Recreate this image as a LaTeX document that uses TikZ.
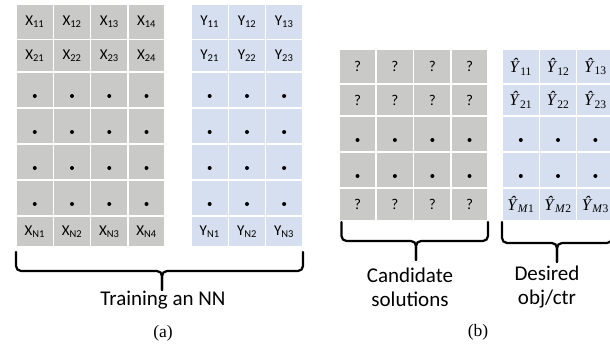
\documentclass[tikz,border=0pt]{standalone}
\usepackage{fontspec}
\setmainfont{Carlito}
\newfontfamily\capfont{Liberation Serif}
\definecolor{cellgray}{RGB}{201,201,200}
\definecolor{cellblue}{RGB}{214,223,239}

\tikzset{
  cell/.style={draw=white, line width=1.3pt, inner sep=0pt,
               font=\fontsize{15}{18}\selectfont},
  graycell/.style={cell, fill=cellgray},
  bluecell/.style={cell, fill=cellblue},
  brace/.style={line width=2.2pt, rounded corners=5pt, line cap=round},
  lbl/.style={font=\fontsize{21}{24}\selectfont, align=center, inner sep=0pt},
  sublbl/.style={font=\capfont\fontsize{17.5}{18}\selectfont, inner sep=0pt},
}

% one cell: name, left, top, right, bottom, style, text
\newcommand\gridcell[7]{%
  \pgfmathsetmacro\cw{#4-#2}\pgfmathsetmacro\ch{#5-#3}%
  \node[#6, minimum width=\cw, minimum height=\ch] (#1)
    at ({(#2+#4)/2},{(#3+#5)/2}) {#7};}
% small black dot inside a cell
\newcommand\celldot[1]{\fill ([yshift=-6pt]#1.center) circle (2pt);}
% estimated output symbol with subscript
\newcommand\yhatsym[1]{{\capfont\fontsize{16.5}{18}\selectfont
  \textit{Ŷ}\textsubscript{#1}}}

\begin{document}
\begin{tikzpicture}[x=1pt, y=-1pt]
\useasboundingbox (0,0) rectangle (610,345);

% ---------- (a) training data ----------
\foreach \c/\xl/\xr in {1/16/53.5, 2/53.5/90.5, 3/90.5/128, 4/128/165} {
  \foreach \r/\yt/\yb in {1/4.7/39.3, 2/39.3/72, 3/72/108, 4/108/144,
                          5/144/180, 6/180/216, 7/216/247} {
    \gridcell{xa-\r-\c}{\xl}{\yt}{\xr}{\yb}{graycell}{%
      \ifcase\r\or X\textsubscript{1\c}\or X\textsubscript{2\c}%
      \or\or\or\or\or X\textsubscript{N\c}\fi}
    \ifnum\r>2 \ifnum\r<7 \celldot{xa-\r-\c}\fi\fi
  }
}
\foreach \c/\xl/\xr in {1/191/228.3, 2/228.3/265.7, 3/265.7/302.5} {
  \foreach \r/\yt/\yb in {1/4.7/39.3, 2/39.3/72, 3/72/108, 4/108/144,
                          5/144/180, 6/180/216, 7/216/247} {
    \gridcell{ya-\r-\c}{\xl}{\yt}{\xr}{\yb}{bluecell}{%
      \ifcase\r\or Y\textsubscript{1\c}\or Y\textsubscript{2\c}%
      \or\or\or\or\or Y\textsubscript{N\c}\fi}
    \ifnum\r>2 \ifnum\r<7 \celldot{ya-\r-\c}\fi\fi
  }
}

% ---------- (b) inverse problem ----------
\foreach \c/\xl/\xr in {1/339/376, 2/376/413.7, 3/413.7/451, 4/451/488} {
  \foreach \r/\yt/\yb in {1/49.3/84, 2/84/116, 3/116/152, 4/152/188, 5/188/221} {
    \gridcell{xb-\r-\c}{\xl}{\yt}{\xr}{\yb}{graycell}{%
      \ifcase\r\or ?\or ?\or\or\or ?\fi}
    \ifnum\r>2 \ifnum\r<5 \celldot{xb-\r-\c}\fi\fi
  }
}
\foreach \c/\xl/\xr in {1/502.3/539.3, 2/539.3/576.7, 3/576.7/614} {
  \foreach \r/\yt/\yb in {1/49.3/84, 2/84/116, 3/116/152, 4/152/188, 5/188/221} {
    \gridcell{yb-\r-\c}{\xl}{\yt}{\xr}{\yb}{bluecell}{%
      \ifcase\r\or \yhatsym{1\c}\or \yhatsym{2\c}\or\or\or \yhatsym{\textit{M}\c}\fi}
    \ifnum\r>2 \ifnum\r<5 \celldot{yb-\r-\c}\fi\fi
  }
}

% ---------- braces ----------
\coordinate (ba-l) at (16,252);   \coordinate (ba-r) at (303,252);
\coordinate (ba-t) at (162,290);
\draw[brace] (ba-l) -- (16,271) -- (162,271) -- (ba-t);
\draw[brace] (ba-r) -- (303,271) -- (162,271) -- (ba-t);

\coordinate (bb-l) at (341.5,222); \coordinate (bb-r) at (488,222);
\coordinate (bb-t) at (416,260);
\draw[brace] (bb-l) -- (341.5,241) -- (416,241) -- (bb-t);
\draw[brace] (bb-r) -- (488,241) -- (416,241) -- (bb-t);

\coordinate (bc-l) at (502,222);  \coordinate (bc-r) at (612,222);
\coordinate (bc-t) at (557,262);
\draw[brace] (bc-l) -- (502,243) -- (557,243) -- (bc-t);
\draw[brace] (bc-r) -- (612,243) -- (557,243) -- (bc-t);

% ---------- labels ----------
\node[lbl] (ta) at (163,300) {Training an NN};
\node[lbl] (tb) at (410,287) {Candidate\\solutions};
\node[lbl] (tc) at (547,287) {Desired\\obj/ctr};
\node[sublbl] (capa) at (163,333) {(a)};
\node[sublbl] (capb) at (478,332) {(b)};
\end{tikzpicture}
\end{document}
